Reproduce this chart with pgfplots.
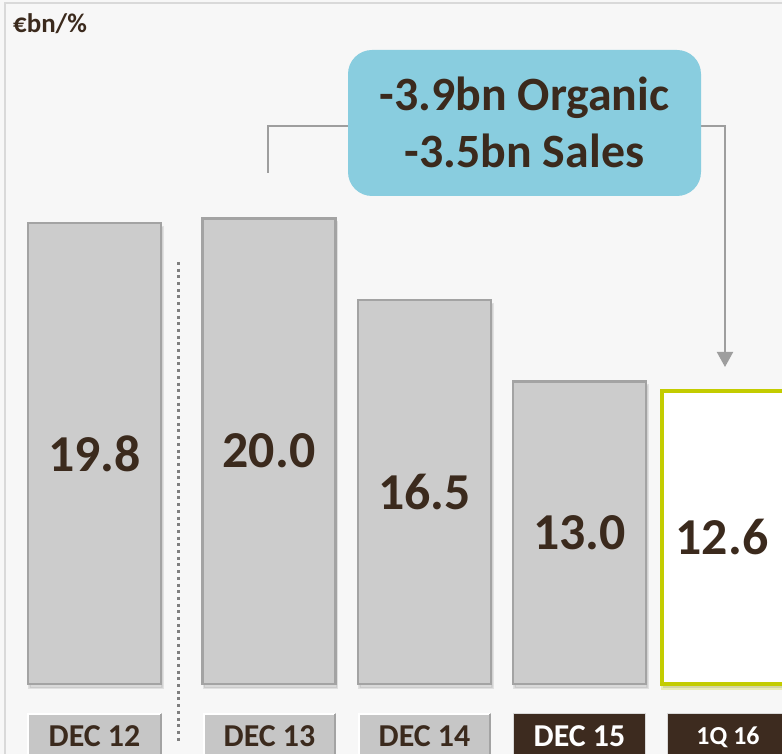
\documentclass[border=0pt]{standalone}
\usepackage{fontspec}
\setmainfont{Carlito}
\usepackage{pgfplots}
\pgfplotsset{compat=1.18}
\usetikzlibrary{shadows,arrows.meta}
\definecolor{txt}{HTML}{3B2A1D}
\definecolor{bg}{HTML}{F7F7F7}
\definecolor{frame}{HTML}{D9D9D9}
\definecolor{barg}{HTML}{CCCCCC}
\definecolor{bard}{HTML}{A3A3A3}
\definecolor{callout}{HTML}{89CDDF}
\definecolor{lime}{HTML}{C3CC00}
\definecolor{darkbox}{HTML}{3D2B1F}
\definecolor{boxg}{HTML}{C6C6C6}
\definecolor{conn}{HTML}{9E9E9E}
\definecolor{dots}{HTML}{7F7F7F}
\begin{document}
\begin{tikzpicture}
\useasboundingbox (0,0) rectangle (782bp,754bp);
\begin{scope}[shift={(0,754bp)},x=1bp,y=-1bp]
\fill[bg] (0,0) rectangle (782,754);
\draw[frame,line width=2bp] (5,770) -- (5,3) -- (800,3);
\end{scope}
\begin{axis}[at={(0,0)},anchor=south west,width=782bp,height=754bp,scale only axis,
  xmin=0,xmax=782,ymin=-3.007,ymax=29.38,hide axis,clip=false]
\addplot[ybar,bar width=133,fill=barg,draw=bard,line width=2.5bp,
  drop shadow={shadow xshift=1.5bp,shadow yshift=-4bp,opacity=0.25}]
  coordinates {(94.5,19.8) (269,20.0) (424.5,16.5) (579.5,13.0)};
\addplot[ybar,bar width=133,fill=white,draw=lime,line width=4bp,
  drop shadow={shadow xshift=1.5bp,shadow yshift=-4bp,opacity=0.25}]
  coordinates {(728,12.6)};
\addplot[draw=none,mark=none,nodes near coords,point meta=explicit symbolic,
  every node near coord/.append style={anchor=center,text=txt,
    font=\fontsize{52}{52}\selectfont\bfseries}]
  table[x=x,y expr=\thisrow{v}/2,meta=lab] {
x v lab
94.5 19.8 19.8
269 20.0 20.0
424.5 16.5 16.5
579.5 13.0 13.0
722 12.6 12.6
};
\end{axis}
\begin{scope}[shift={(0,754bp)},x=1bp,y=-1bp]
% title
\node[anchor=base west,text=txt,inner sep=0pt,font=\fontsize{27}{27}\selectfont\bfseries] at (13,33) {€bn/\%};
% dotted separator
\draw[dots,line width=3bp,dash pattern=on 3bp off 3.7bp] (178,262) -- (178,742);
% connector
\draw[conn,line width=2bp] (268,173) -- (268,126) -- (360,126);
\draw[conn,line width=2bp,-{Triangle[width=16bp,length=15bp]}] (690,126) -- (725,126) -- (725,367);
% callout
\fill[callout,rounded corners=24bp] (348,50) rectangle (701,196);
\node[anchor=base,text=txt,inner sep=0pt,font=\fontsize{48}{48}\selectfont\bfseries] at (524.5,111) {-3.9bn Organic};
\node[anchor=base,text=txt,inner sep=0pt,font=\fontsize{48}{48}\selectfont\bfseries] at (524.5,168) {-3.5bn Sales};
% category boxes
\foreach \l/\r/\t in {27/162/DEC 12,203/336/DEC 13,358/491/DEC 14}{
  \fill[boxg] (\l,713) rectangle (\r,780);
  \draw[white,line width=1.5bp] (\l+1,780) -- (\l+1,714) -- (\r-1,714);
  \draw[bard,line width=1.5bp] (\r-1,714) -- (\r-1,780);
  \node[anchor=base,text=txt,inner sep=0pt,font=\fontsize{32}{32}\selectfont\bfseries] at ({(\l+\r)/2},747) {\t};
}
\fill[darkbox] (513,713) rectangle (646,780);
\draw[frame,line width=1.5bp] (513.5,780) -- (513.5,713.5) -- (645.5,713.5) -- (645.5,780);
\node[anchor=base,text=white,inner sep=0pt,font=\fontsize{32}{32}\selectfont\bfseries] at (579.5,747) {DEC 15};
\fill[darkbox] (667,713) rectangle (800,780);
\draw[frame,line width=1.5bp] (667.5,780) -- (667.5,713.5) -- (800,713.5);
\node[anchor=base,text=white,inner sep=0pt,font=\fontsize{26}{26}\selectfont\bfseries] at (728,745) {1Q 16};
\end{scope}
\end{tikzpicture}
\end{document}
